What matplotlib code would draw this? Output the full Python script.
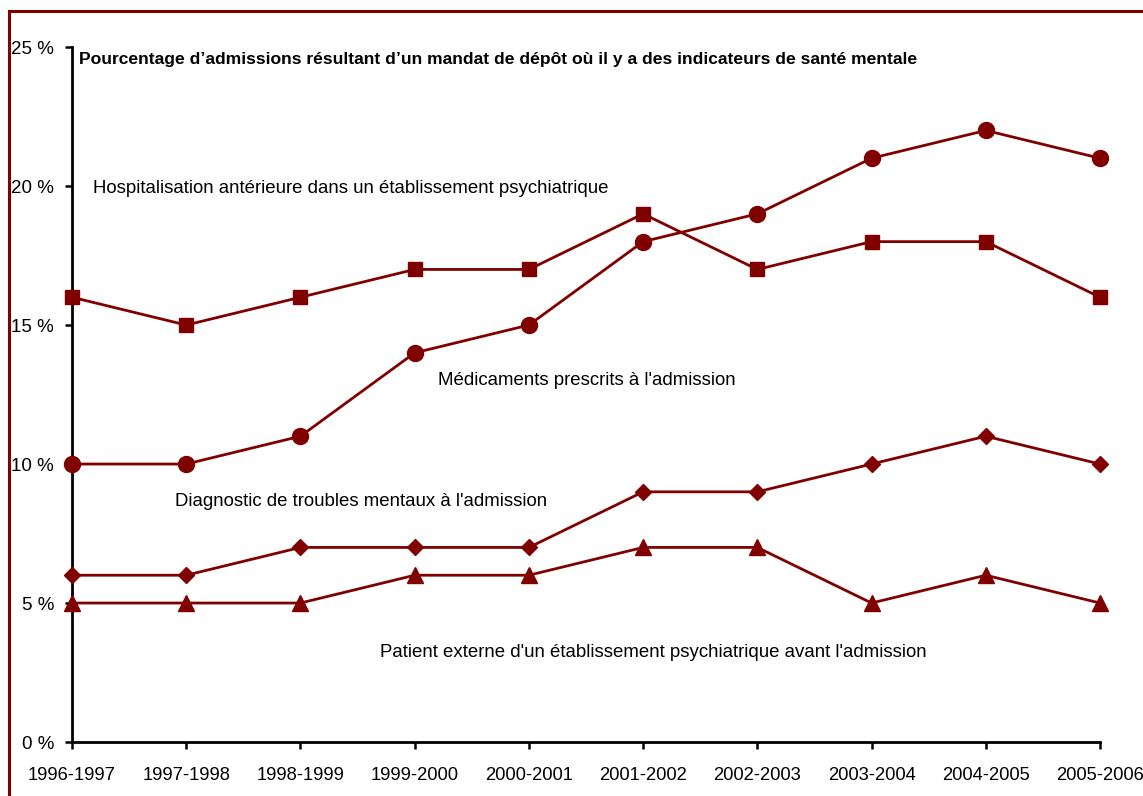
import matplotlib.pyplot as plt
from matplotlib.patches import Rectangle

years = ["1996-1997", "1997-1998", "1998-1999", "1999-2000", "2000-2001",
         "2001-2002", "2002-2003", "2003-2004", "2004-2005", "2005-2006"]
hospitalisation = [16, 15, 16, 17, 17, 19, 17, 18, 18, 16]
medicaments = [10, 10, 11, 14, 15, 18, 19, 21, 22, 21]
diagnostic = [6, 6, 7, 7, 7, 9, 9, 10, 11, 10]
patient_externe = [5, 5, 5, 6, 6, 7, 7, 5, 6, 5]
yticks = [0, 5, 10, 15, 20, 25]

plt.rcParams['font.family'] = ['Liberation Sans', 'DejaVu Sans']
col = '#800000'

fig = plt.figure(figsize=(11.43, 7.96), dpi=100)
ax = fig.add_axes([0.063, 0.0678, 0.8994, 0.8731])
x = list(range(len(years)))

ax.plot(x, hospitalisation, color=col, lw=2, marker='s', ms=10, clip_on=False, zorder=3)
ax.plot(x, medicaments, color=col, lw=2, marker='o', ms=11.5, clip_on=False, zorder=3)
ax.plot(x, diagnostic, color=col, lw=2, marker='D', ms=8, clip_on=False, zorder=3)
ax.plot(x, patient_externe, color=col, lw=2, marker='^', ms=11, clip_on=False, zorder=3)

ax.set_xlim(0, len(years) - 1)
ax.set_ylim(0, 25)
ax.set_xticks(x)
ax.set_xticklabels(years, fontsize=13.2)
ax.set_yticks(yticks)
ax.set_yticklabels([f"{v} %" for v in yticks], fontsize=13.5)
ax.tick_params(direction='out', length=5, width=1.8)
ax.tick_params(axis='x', pad=13)
ax.tick_params(axis='y', pad=8)
for s in ['top', 'right']:
    ax.spines[s].set_visible(False)
for s in ['left', 'bottom']:
    ax.spines[s].set_linewidth(2)

ax.text(0.06, 24.55, "Pourcentage d\u2019admissions résultant d\u2019un mandat de dépôt où il y a des indicateurs de santé mentale",
        fontsize=12.6, fontweight='bold', va='center', ha='left')
ax.text(0.18, 19.9, "Hospitalisation antérieure dans un établissement psychiatrique",
        fontsize=13.4, va='center', ha='left')
ax.text(3.2, 13.0, "Médicaments prescrits à l'admission",
        fontsize=13.4, va='center', ha='left')
ax.text(0.9, 8.65, "Diagnostic de troubles mentaux à l'admission",
        fontsize=13.4, va='center', ha='left')
ax.text(2.7, 3.22, "Patient externe d'un établissement psychiatrique avant l'admission",
        fontsize=13.4, va='center', ha='left')

# dark red frame of the original image (left and top edges visible)
fig.patches.append(Rectangle((9 / 1143, -0.1), 1.2, 1 - 11 / 796 + 0.1,
                             transform=fig.transFigure, fill=False, edgecolor=col, lw=2.2))

fig.savefig("out.png", dpi=100)
